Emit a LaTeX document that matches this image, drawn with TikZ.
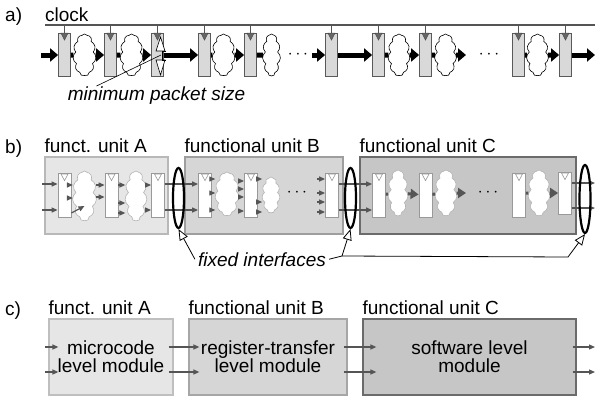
\documentclass[tikz,border=0pt]{standalone}
\usepackage{fontspec}
\setmainfont{Liberation Sans}
\usetikzlibrary{arrows.meta,positioning,shapes.symbols,shapes.geometric}

\definecolor{wire}{HTML}{555555}
\definecolor{regfill}{HTML}{D9D9D9}
\definecolor{unitA}{HTML}{E6E6E6}
\definecolor{unitB}{HTML}{D6D6D6}
\definecolor{unitC}{HTML}{C6C6C6}

\tikzset{
	lbl/.style={inner sep=0pt, font=\fontsize{19}{18}\selectfont},
	lbli/.style={inner sep=0pt, font=\fontsize{19}{18}\selectfont\itshape},
	regA/.style={draw=black!65, fill=regfill, minimum width=12pt, minimum height=43pt, inner sep=0pt, line width=0.8pt},
	regB/.style={draw=black!40, fill=white, minimum width=13pt, minimum height=44pt, inner sep=0pt, line width=0.8pt},
	puff/.style={cloud, cloud puffs=11, cloud puff arc=110, cloud ignores aspect, draw=black, fill=white, inner sep=0pt, line width=0.6pt},
	puffB/.style={puff, draw=black!30},
	unitbox/.style={rectangle, line width=1.2pt, inner sep=0pt, align=center, font=\fontsize{19}{18}\selectfont},
	ifc/.style={ellipse, draw=black, line width=2.2pt, minimum width=11pt, inner sep=0pt},
	fat/.style={line width=5pt, -{Triangle[length=8pt,width=13pt]}},
	fatbar/.style={line width=5pt},
	sig/.style={draw=wire, line width=1.2pt, -{Triangle[length=6pt,width=5pt]}},
	sigbig/.style={draw=wire, line width=3pt, -{Triangle[length=8pt,width=10pt]}},
	stub/.style={draw=wire, line width=3pt},
	hint/.style={draw=black, line width=0.8pt, -{Triangle[length=11pt,width=9pt,fill=white]}},
}

\begin{document}
\begin{tikzpicture}[x=1pt, y=-1pt]
	\useasboundingbox (0,0) rectangle (595,399);

	% a) clocked pipeline
	\node[lbl, anchor=base west] (la) at (5,21) {a)};
	\node[lbl, anchor=base west] (clk) at (45,21) {clock};
	\coordinate (clk0) at (45,25);
	\coordinate (clk1) at (595,25);
	\draw[wire, line width=1.5pt] (clk0) -- (clk1);

	\node[regA] (p1) at (64.5,55) {};
	\node[regA] (p2) at (110.5,55) {};
	\node[regA] (p3) at (157.5,55) {};
	\node[regA] (p4) at (204.5,55) {};
	\node[regA] (p5) at (250.5,55) {};
	\node[regA] (p6) at (331.5,55) {};
	\node[regA] (p7) at (378.5,55) {};
	\node[regA] (p8) at (425.5,55) {};
	\node[regA] (p9) at (518.5,55) {};
	\node[regA] (p10) at (565.5,55) {};
	\foreach \r in {p1,p2,p3,p4,p5,p6,p7,p8,p9,p10} {
		\draw[wire, line width=1pt] (\r.north |- clk0) -- (\r.north);
		\filldraw[fill=black!60, draw=black!70, line width=0.5pt] ([xshift=-3.5pt]\r.north) -- ([xshift=3.5pt]\r.north) -- ([yshift=-7pt]\r.north) -- cycle;
	}

	\node[puff, minimum width=23pt, minimum height=42pt] (pc1) at (84.5,55) {};
	\node[puff, minimum width=23pt, minimum height=42pt] (pc2) at (131.5,55) {};
	\node[puff, minimum width=23pt, minimum height=42pt] (pc3) at (223.5,55) {};
	\node[puff, minimum width=18pt, minimum height=42pt] (pc4) at (271.5,55) {};
	\node[puff, minimum width=22pt, minimum height=42pt] (pc5) at (399,55) {};
	\node[puff, minimum width=22pt, minimum height=42pt] (pc6) at (445.5,55) {};
	\node[puff, minimum width=22pt, minimum height=42pt] (pc7) at (537.5,55) {};

	\coordinate (ain) at (41,55);
	\draw[fat] (ain) -- (p1);
	\draw[fatbar] (p1) -- (pc1);
	\draw[fat] (pc1) -- (p2);
	\draw[fatbar] (p2) -- (pc2);
	\draw[fat] (pc2) -- (p3);
	\draw[fat] (p3) -- (p4);
	\draw[fatbar] (p4) -- (pc3);
	\draw[fat] (pc3) -- (p5);
	\draw[fatbar] (p5) -- (pc4);
	\node[lbl] (pd1) at (298,55) {$\cdots$};
	\coordinate (a6) at (312,55);
	\draw[fat] (a6) -- (p6);
	\draw[fat] (p6) -- (p7);
	\draw[fatbar] (p7) -- (pc5);
	\draw[fat] (pc5) -- (p8);
	\draw[fatbar] (p8) -- (pc6);
	\coordinate (a8) at (466,55);
	\draw[fat] (pc6) -- (a8);
	\node[lbl] (pd2) at (489,55) {$\cdots$};
	\draw[fatbar] (p9) -- (pc7);
	\draw[fat] (pc7) -- (p10);
	\coordinate (aout) at (595,55);
	\draw[fat] (p10) -- (aout);

	% packet size marker on the third register
	\filldraw[fill=white, line width=0.6pt] (156,51) -- (165,51) -- (160.5,37) -- cycle;
	\filldraw[fill=white, line width=0.6pt] (156,60) -- (165,60) -- (160.5,75) -- cycle;
	\draw[line width=0.6pt] (166,51) -- (162.5,51) -- (162.5,60) -- (166,60);
	\coordinate (psize) at (161,55);
	\node[lbli, anchor=base] (mps) at (156.5,100) {minimum packet size};
	\draw[line width=0.6pt] ([xshift=-60pt]mps.north) -- (psize);

	% b) functional units with fixed interfaces
	\node[lbl, anchor=base west] (lb) at (5,153) {b)};
	\node[unitbox, fill=unitA, draw=black!28, minimum width=123pt, minimum height=77pt] (uA) at (106.5,195.5) {};
	\node[unitbox, fill=unitB, draw=black!38, minimum width=158pt, minimum height=77pt] (uB) at (264,195.5) {};
	\node[unitbox, fill=unitC, draw=black!58, minimum width=216pt, minimum height=77pt] (uC) at (468,195.5) {};
	\node[lbl, above right=4pt and 0pt of uA.north west] (tA) {funct. unit A};
	\node[lbl, above right=4pt and 0pt of uB.north west] (tB) {functional unit B};
	\node[lbl, above right=4pt and 0pt of uC.north west] (tC) {functional unit C};

	\node[puffB, minimum width=24pt, minimum height=50pt] (ca1) at (84.5,196) {};
	\node[puffB, minimum width=22pt, minimum height=50pt] (ca2) at (136,196) {};
	\node[puffB, minimum width=24pt, minimum height=44pt] (cb1) at (227,194) {};
	\node[puffB, minimum width=18pt, minimum height=36pt] (cb2) at (271,195) {};
	\node[puffB, minimum width=20pt, minimum height=46pt] (cc1) at (398,193) {};
	\node[puffB, minimum width=22pt, minimum height=46pt] (cc2) at (446,193) {};
	\node[puffB, minimum width=22pt, minimum height=46pt] (cc3) at (539,193) {};

	\node[regB] (ra1) at (64.5,195) {};
	\node[regB] (ra2) at (111.5,195) {};
	\node[regB] (ra3) at (158,195) {};
	\node[regB] (rb1) at (205,195) {};
	\node[regB] (rb2) at (251,195) {};
	\node[regB] (rb3) at (332,195) {};
	\node[regB] (rc1) at (379,195) {};
	\node[regB] (rc2) at (425.5,195) {};
	\node[regB] (rc3) at (519,195) {};
	\node[regB, minimum height=42pt] (rc4) at (565,193) {};
	\foreach \r in {ra1,ra2,ra3,rb1,rb2,rb3,rc1,rc2,rc3,rc4}
		\filldraw[fill=white, draw=black!40, line width=0.6pt] ([xshift=-3.5pt,yshift=-1.5pt]\r.north) -- ([xshift=3.5pt,yshift=-1.5pt]\r.north) -- ([yshift=-8pt]\r.north) -- cycle;

	\coordinate (inA1) at (42,184);
	\coordinate (inA2) at (42,210);
	\draw[sig] (inA1) -- (inA1 -| ra1.west);
	\draw[sig] (inA2) -- (inA2 -| ra1.west);
	\foreach \y in {185,198} \draw[sig] (ra1.east |- 0,\y) -- (ca1.west |- 0,\y);
	\draw[sig] (ra1.east |- 0,213) -- (ca1.center |- 0,206);
	\foreach \y in {185,197} \draw[sig] (ca1.east |- 0,\y) -- (ra2.west |- 0,\y);
	\foreach \y in {185,203,213} \draw[sig] (ra2.east |- 0,\y) -- (ca2.west |- 0,\y);
	\foreach \y in {185,210} \draw[sig] (ca2.east |- 0,\y) -- (ra3.west |- 0,\y);
	\foreach \y in {184,210} \draw[sig] (ra3.east |- 0,\y) -- (rb1.west |- 0,\y);

	\foreach \y in {179,193,210} \draw[sig] (rb1.east |- 0,\y) -- (cb1.west |- 0,\y);
	\foreach \y in {181,189,197,211} \draw[sig] (cb1.east |- 0,\y) -- (rb2.west |- 0,\y);
	\foreach \y in {179,202,212} \draw[sig] (rb2.east |- 0,\y) -- (cb2.west |- 0,\y);
	\node[lbl] (bd) at (297,193) {$\cdots$};
	\foreach \y in {179,193,202,212} \draw[sig] (317,\y) -- (rb3.west |- 0,\y);
	\foreach \y in {184,210} \draw[sig] (rb3.east |- 0,\y) -- (rc1.west |- 0,\y);

	\draw[stub] (rc1) -- (cc1);
	\draw[sigbig] (cc1) -- (rc2);
	\draw[stub] (rc2) -- (cc2);
	\coordinate (cout) at (466,193);
	\draw[sigbig] (cc2) -- (cout);
	\node[lbl] (cd) at (488,193) {$\cdots$};
	\draw[stub] (rc3.east |- cc3) -- (cc3);
	\draw[sigbig] (cc3) -- (rc4);
	\foreach \y in {183,208} \draw[sig] (rc4.east |- 0,\y) -- (595,\y);

	\node[ifc, minimum height=60pt] (fiA) at (178.5,198) {};
	\node[ifc, minimum height=60pt] (fiB) at (350.5,198) {};
	\node[ifc, minimum height=68pt] (fiC) at (585,199) {};

	\node[lbli, anchor=base, inner sep=3pt] (fix) at (262,266) {fixed interfaces};
	\coordinate (fork) at (342,256);
	\coordinate (bend) at (568,257);
	\draw[hint] (fix.west) -- (fiA.south);
	\draw[line width=0.8pt] (fix.east) -- (fork);
	\draw[hint] (fork) -- (fiB.south);
	\draw[hint] (fork) -- (bend) -- (fiC.south);

	% c) modules at different levels
	\node[lbl, anchor=base west] (lc) at (5,315) {c)};
	\node[unitbox, fill=unitA, draw=black!25, minimum width=124pt, minimum height=76pt] (mA) at (111,357) {microcode\\level module};
	\node[unitbox, fill=unitB, draw=black!35, minimum width=158pt, minimum height=76pt] (mB) at (268,357) {register-transfer\\level module};
	\node[unitbox, fill=unitC, draw=black!58, minimum width=213pt, minimum height=76pt] (mC) at (469.5,357) {software level\\module};
	\node[lbl, above right=4pt and 0pt of mA.north west] (tmA) {funct. unit A};
	\node[lbl, above right=4pt and 0pt of mB.north west] (tmB) {functional unit B};
	\node[lbl, above right=4pt and 0pt of mC.north west] (tmC) {functional unit C};

	\coordinate (inM1) at (45,347);
	\coordinate (inM2) at (45,372);
	\draw[sig] (inM1) -- ([shift={(10,-10)}]mA.west);
	\draw[sig] (inM2) -- ([shift={(10,15)}]mA.west);
	\draw[sig] ([shift={(-5,-10)}]mA.east) -- ([shift={(11,-10)}]mB.west);
	\draw[sig] ([shift={(-5,15)}]mA.east) -- ([shift={(11,15)}]mB.west);
	\draw[sig] ([shift={(-4,-10)}]mB.east) -- ([shift={(14,-10)}]mC.west);
	\draw[sig] ([shift={(-4,15)}]mB.east) -- ([shift={(14,15)}]mC.west);
	\coordinate (outM1) at (595,347);
	\coordinate (outM2) at (595,372);
	\draw[sig] ([shift={(-4,-10)}]mC.east) -- (outM1);
	\draw[sig] ([shift={(-4,15)}]mC.east) -- (outM2);
\end{tikzpicture}
\end{document}
